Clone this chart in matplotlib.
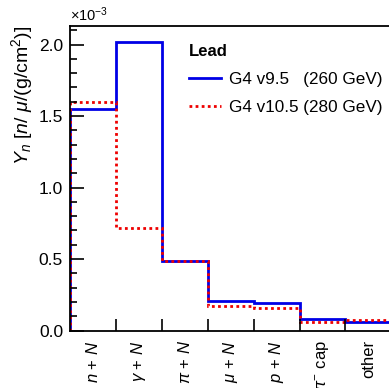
import numpy as np
import matplotlib.pyplot as plt
from matplotlib.ticker import MultipleLocator, FixedLocator, NullFormatter

processes = [r'$n$ + $N$', r'$\gamma$ + $N$', r'$\pi$ + $N$', r'$\mu$ + $N$', r'$p$ + $N$',
             r'$\pi^{-}$ cap', 'other']
yield_v95 = [1.55, 2.02, 0.487, 0.207, 0.194, 0.080, 0.057]    # x 1e-3
yield_v105 = [1.60, 0.716, 0.487, 0.174, 0.158, 0.057, 0.073]  # x 1e-3

plt.rcParams['font.family'] = ['Liberation Sans', 'DejaVu Sans']
plt.rcParams['mathtext.fontset'] = 'custom'
plt.rcParams['mathtext.it'] = 'Liberation Sans:italic'
plt.rcParams['mathtext.rm'] = 'Liberation Sans'

fig = plt.figure(figsize=(3.89, 3.88), dpi=100)
ax = fig.add_axes([0.18, 0.148, 0.826, 0.785])

edges = np.arange(len(processes) + 1)
ax.stairs(yield_v95, edges, color='#0000e6', lw=2, label='G4 v9.5   (260 GeV)')
ax.stairs(yield_v105, edges, color='#ee0000', lw=2, ls=(0, (1, 1.2)),
          label='G4 v10.5 (280 GeV)')

ax.set_xlim(0, len(processes))
ax.set_ylim(0, 2.13)

# bin edges as ticks, names centred in the bins
ax.xaxis.set_major_locator(FixedLocator(edges[1:-1]))
ax.xaxis.set_major_formatter(NullFormatter())
ax.xaxis.set_minor_locator(FixedLocator(edges[:-1] + 0.5))
ax.set_xticklabels(processes, minor=True, rotation=90, fontsize=12)
ax.tick_params(axis='x', which='major', direction='in', length=9, width=1.2)
ax.tick_params(axis='x', which='minor', length=0, pad=7)

ax.yaxis.set_major_locator(MultipleLocator(0.5))
ax.yaxis.set_minor_locator(MultipleLocator(0.1))
ax.yaxis.set_major_formatter(lambda v, p: f'{v:.1f}')
ax.tick_params(axis='y', which='major', direction='in', length=10, width=1.2,
               labelsize=12.5, pad=5)
ax.tick_params(axis='y', which='minor', direction='in', length=5, width=1.2)
for s in ax.spines.values():
    s.set_linewidth(1.3)

ax.text(0.0, 1.005, r'$\times$10$^{-3}$', transform=ax.transAxes,
        fontsize=10.5, ha='left', va='bottom')
ax.set_ylabel(r'$Y_n$ [$n$/ $\mu$/(g/cm$^2$)]', fontsize=14, loc='top', labelpad=3)

leg = ax.legend(title='Lead', loc='upper left', bbox_to_anchor=(0.37, 0.94),
                frameon=False, fontsize=12.3, handlelength=1.9, handletextpad=0.45,
                labelspacing=0.75, borderpad=0, borderaxespad=0)
leg.get_title().set_fontweight('bold')
leg.get_title().set_fontsize(12)
leg._legend_box.align = 'left'

fig.savefig('out.png', dpi=100)
